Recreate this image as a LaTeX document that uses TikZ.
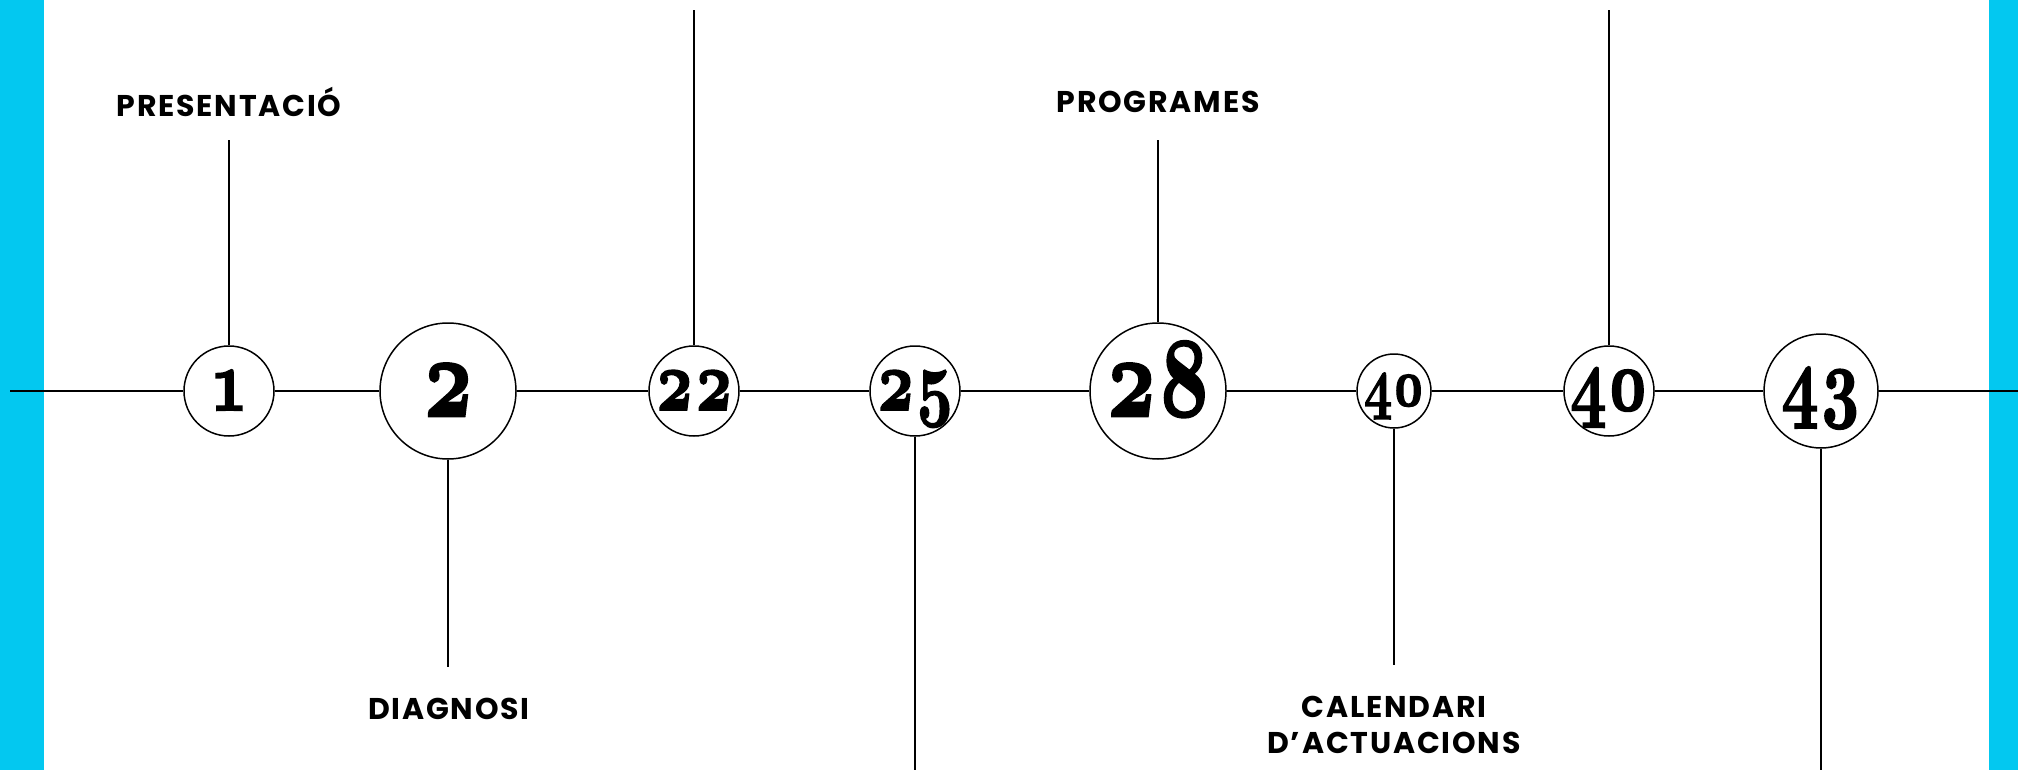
\documentclass[tikz,border=0pt]{standalone}
\usepackage{fontspec}
\usepackage{graphicx}
\newfontfamily\labelfont[LetterSpace=6]{Poppins}
\newfontfamily\numfont{lmroman10-bold.otf}[Numbers=OldStyle, FakeBold=2]
\definecolor{barblue}{RGB}{3,200,240}
\tikzset{
  conn/.style={line width=1.5pt, black},
  station/.style={circle, draw=black, line width=1.5pt, fill=white, inner sep=0pt, text height=#1*0.44, text depth=0pt},
  lbl/.style={font=\labelfont\bfseries\fontsize{30}{36}\selectfont, align=center, inner sep=0pt},
}
\newcommand{\numsize}[1]{\numfont\fontsize{#1}{#1}\selectfont}
\newcommand{\nm}[1]{\scalebox{0.72}[1]{#1}}
\begin{document}
\begin{tikzpicture}[x=1pt,y=-1pt]
\useasboundingbox (0,0) rectangle (2018,770);
\fill[barblue] (0,0) rectangle (44,770);
\fill[barblue] (1989,0) rectangle (2018,770);
% endpoints
\coordinate (start) at (10,391);
\coordinate (end) at (2018,391);
% stations
\node[station=88pt, minimum size=90pt, font=\numsize{88}] (n1) at (229,391) {\nm{1}};
\node[station=115pt, minimum size=136pt, font=\numsize{115}] (n2) at (448,391) {\nm{2}};
\node[station=86pt, minimum size=90pt, font=\numsize{86}] (n3) at (694,391) {\nm{22}};
\node[station=86pt, minimum size=90pt, font=\numsize{86}] (n4) at (915,391) {\nm{25}};
\node[station=115pt, minimum size=136pt, font=\numsize{115}] (n5) at (1158,391) {\nm{28}};
\node[station=68pt, minimum size=74pt, font=\numsize{68}] (n6) at (1394,391) {\nm{40}};
\node[station=88pt, minimum size=90pt, font=\numsize{88}] (n7) at (1609,391) {\nm{40}};
\node[station=90pt, minimum size=114pt, font=\numsize{90}] (n8) at (1821,391) {\nm{43}};
% main line
\draw[conn] (start) -- (n1) (n1) -- (n2) (n2) -- (n3) (n3) -- (n4) (n4) -- (n5) (n5) -- (n6) (n6) -- (n7) (n7) -- (n8) (n8) -- (end);
% branch ends
\coordinate (e1) at (229,140);
\coordinate (e2) at (448,667);
\coordinate (e3) at (694,10);
\coordinate (e4) at (915,770);
\coordinate (e5) at (1158,140);
\coordinate (e6) at (1394,665);
\coordinate (e7) at (1609,10);
\coordinate (e8) at (1821,770);
\foreach \i in {1,...,8} {\draw[conn] (n\i) -- (e\i);}
% labels
\node[lbl] (l1) at (229,102) {PRESENTACIÓ};
\node[lbl] (l2) at (449,709) {DIAGNOSI};
\node[lbl] (l5) at (1158,102) {PROGRAMES};
\node[lbl] (l6) at (1394,725) {CALENDARI\\D’ACTUACIONS};
\end{tikzpicture}
\end{document}
